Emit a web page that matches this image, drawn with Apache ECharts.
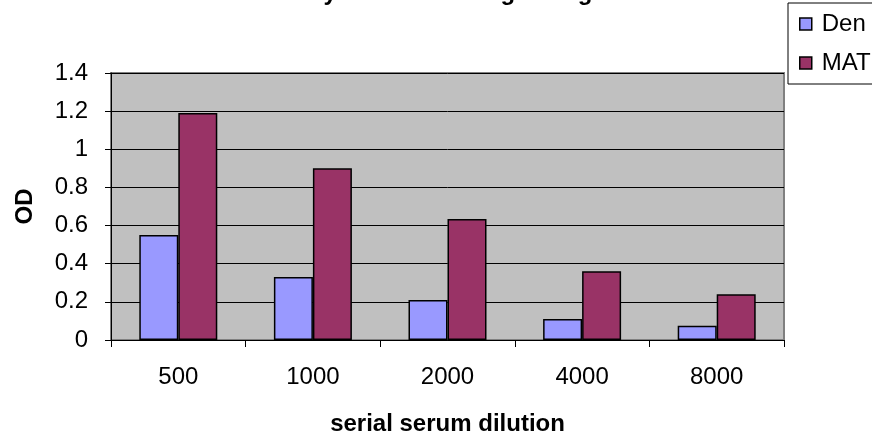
<!DOCTYPE html>
<html>
<head>
<meta charset="utf-8">
<script src="https://cdn.jsdelivr.net/npm/echarts@6/dist/echarts.min.js"></script>
<style>
  html, body { margin: 0; padding: 0; background: #fff; }
  #chart { width: 872px; height: 434px; }
</style>
</head>
<body>
<div id="chart"></div>
<script>
// Dilution series (x categories)
const categories = ['500', '1000', '2000', '4000', '8000'];
// OD readings per serum dilution
const denValues = [0.55, 0.33, 0.21, 0.11, 0.075];
const matValues = [1.19, 0.90, 0.635, 0.36, 0.24];
// Value axis range
const yMin = 0;
const yMax = 1.4;
const yStep = 0.2;

const FONT = '"Liberation Sans", Arial, sans-serif';

const chart = echarts.init(document.getElementById('chart'), null, { renderer: 'canvas' });

chart.setOption({
  animation: false,
  backgroundColor: '#ffffff',
  textStyle: { fontFamily: FONT },
  title: {
    text: 'Assay of MAT coating dosage',
    left: 'center',
    top: -24,
    textStyle: { fontFamily: FONT, fontSize: 24, fontWeight: 'bold', color: '#000' }
  },
  legend: {
    orient: 'vertical',
    left: 788,
    top: 3,
    padding: [9, 60, 9, 11],
    itemWidth: 12,
    itemHeight: 12,
    itemGap: 15,
    icon: 'rect',
    borderColor: '#000',
    borderWidth: 1,
    backgroundColor: '#fff',
    itemStyle: { borderColor: '#000', borderWidth: 1.5 },
    textStyle: { fontFamily: FONT, fontSize: 24, color: '#000', padding: [0, 0, 0, 5] },
    data: ['Den', 'MAT']
  },
  grid: {
    left: 111,
    top: 73,
    width: 673,
    height: 267,
    containLabel: false,
    outerBoundsMode: 'none',
    show: true,
    backgroundColor: '#C0C0C0',
    borderColor: '#808080',
    borderWidth: 2
  },
  xAxis: {
    type: 'category',
    data: categories,
    name: 'serial serum dilution',
    nameLocation: 'middle',
    nameGap: 72,
    nameTextStyle: { fontFamily: FONT, fontSize: 24, fontWeight: 'bold', color: '#000' },
    axisLine: { show: true, lineStyle: { color: '#000', width: 1 } },
    axisTick: { show: true, alignWithLabel: false, length: 7, inside: false, lineStyle: { color: '#000' } },
    axisLabel: { fontFamily: FONT, fontSize: 24, color: '#000', margin: 25 },
    splitLine: { show: false }
  },
  yAxis: {
    type: 'value',
    min: yMin,
    max: yMax,
    interval: yStep,
    name: 'OD',
    nameLocation: 'middle',
    nameRotate: 90,
    nameGap: 74,
    nameTextStyle: { fontFamily: FONT, fontSize: 24, fontWeight: 'bold', color: '#000' },
    axisLine: { show: true, lineStyle: { color: '#000', width: 1 } },
    axisTick: { show: true, length: 6, inside: false, lineStyle: { color: '#000' } },
    axisLabel: { fontFamily: FONT, fontSize: 24, color: '#000', margin: 23 },
    splitLine: { show: true, lineStyle: { color: '#000', width: 1 } }
  },
  series: [
    {
      name: 'Den',
      type: 'bar',
      data: denValues,
      barWidth: 39,
      barGap: '0%',
      itemStyle: { color: '#9999FF', borderColor: '#000', borderWidth: 1.5 }
    },
    {
      name: 'MAT',
      type: 'bar',
      data: matValues,
      barWidth: 39,
      barGap: '0%',
      itemStyle: { color: '#993366', borderColor: '#000', borderWidth: 1.5 }
    }
  ]
});
</script>
</body>
</html>
